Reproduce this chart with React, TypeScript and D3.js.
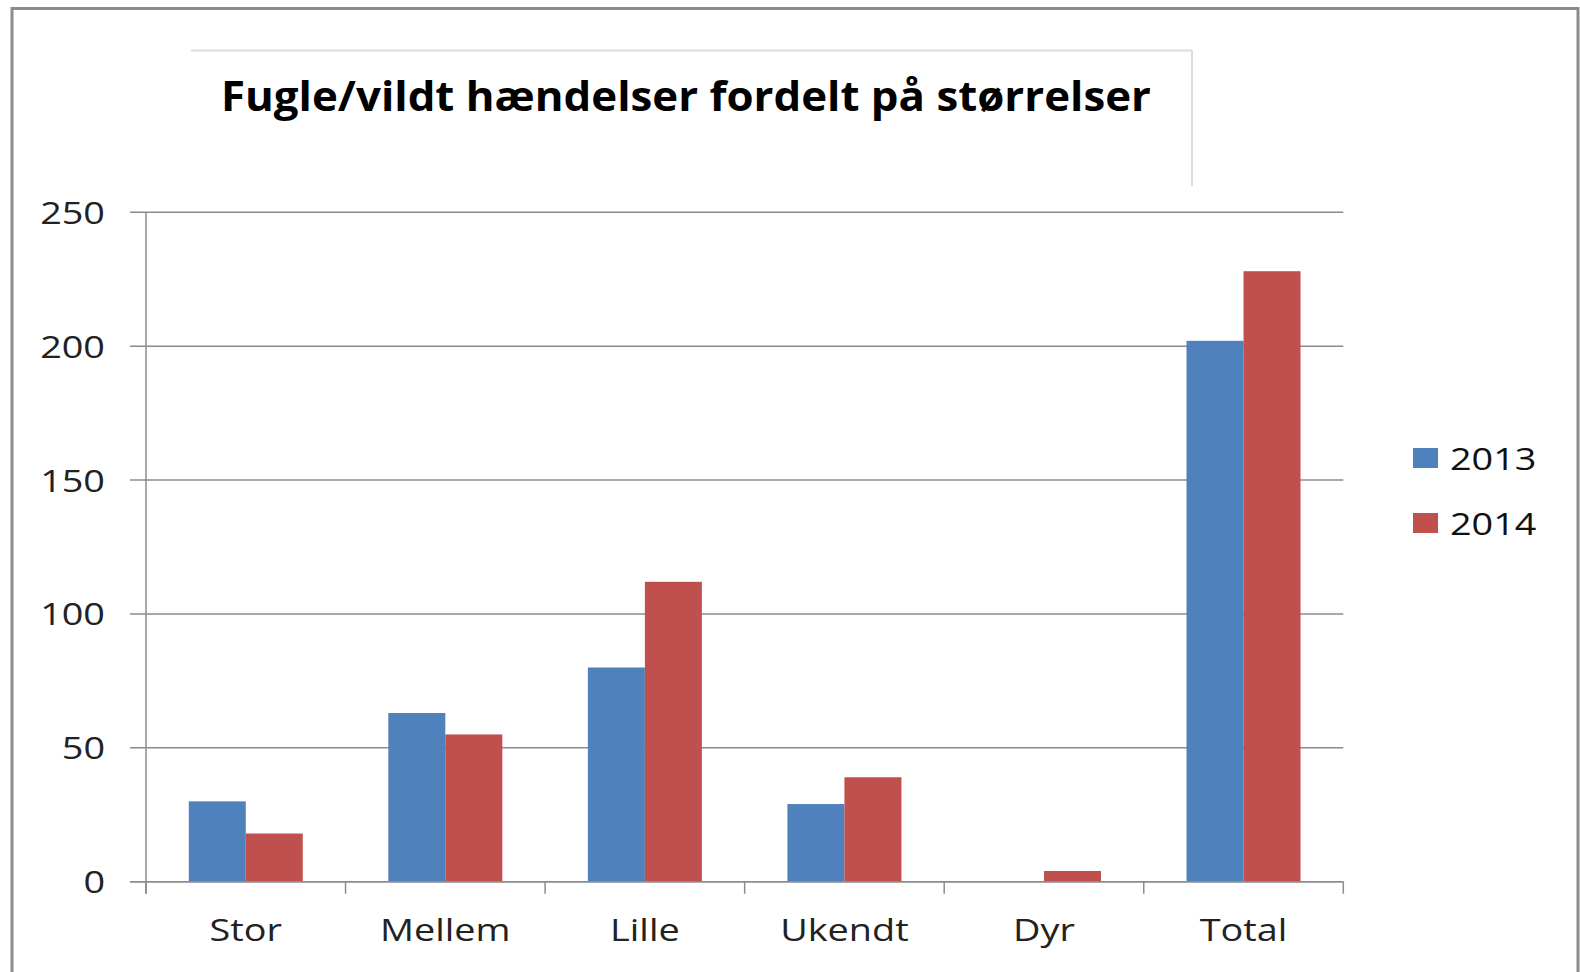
import React from 'react';
import * as d3 from 'd3';

const categories = ['Stor', 'Mellem', 'Lille', 'Ukendt', 'Dyr', 'Total'];
const seriesNames = ['2013', '2014'];
const values2013 = [30, 63, 80, 29, 0, 202];
const values2014 = [18, 55, 112, 39, 4, 228];
const yTicks = [0, 50, 100, 150, 200, 250];
const title = 'Fugle/vildt hændelser fordelt på størrelser';

const colors = ['#4f81bd', '#c0504d'];
const font = '"Open Sans", "DejaVu Sans", sans-serif';
const stretch = 1.22; // labels look stretched sideways in the original

const App = () => {
  const width = 1580;
  const height = 972;
  const margin = { left: 146, right: 236.7, top: 212.3, bottom: 90.3 };

  const x = d3
    .scaleBand()
    .domain(categories)
    .range([margin.left, width - margin.right])
    .paddingInner(0)
    .paddingOuter(0);

  const xs = d3
    .scaleBand()
    .domain(seriesNames)
    .range([0, x.bandwidth()])
    .paddingInner(0)
    .paddingOuter(0.75);

  const y = d3
    .scaleLinear()
    .domain([0, 250])
    .range([height - margin.bottom, margin.top]);

  const series = [values2013, values2014];
  const xEnd = width - margin.right;
  const tickXs = categories.map(c => x(c)).concat([xEnd]);

  return (
    <svg
      width={width}
      height={height}
      style={{ position: 'absolute', left: 0, top: 0, background: '#fff' }}
    >
      <rect x={0} y={0} width={width} height={height} fill="#fff" />
      {/* outer frame */}
      <rect x={12} y={8.5} width={1566} height={1000} fill="none" stroke="#8c8c8c" strokeWidth={3} />

      {/* title box lines */}
      <line x1={191} x2={1192} y1={50.5} y2={50.5} stroke="#dcdcdc" strokeWidth={2} />
      <line x1={1192} x2={1192} y1={50.5} y2={186} stroke="#dcdcdc" strokeWidth={2} />
      <text
        x={221}
        y={111}
        fontFamily={font}
        fontWeight="bold"
        fontSize={42}
        textLength={930}
        lengthAdjust="spacingAndGlyphs"
        fill="#000"
      >
        {title}
      </text>

      {/* gridlines + y ticks */}
      {yTicks.map(t => (
        <g key={t}>
          <line
            x1={130}
            x2={xEnd}
            y1={y(t)}
            y2={y(t)}
            stroke="#8c8c8c"
            strokeWidth={1.5}
          />
          <text
            transform={`translate(105,${y(t) + 11.5}) scale(${stretch},1)`}
            textAnchor="end"
            fontFamily={font}
            fontSize={31}
            fill="#222"
          >
            {t}
          </text>
        </g>
      ))}

      {/* bars */}
      {series.map((vals, si) =>
        vals.map((v, i) => (
          <rect
            key={si + '-' + i}
            x={x(categories[i]) + xs(seriesNames[si])}
            y={y(v)}
            width={xs.bandwidth()}
            height={y(0) - y(v)}
            fill={colors[si]}
          />
        ))
      )}

      {/* y axis */}
      <line x1={margin.left} x2={margin.left} y1={y(250)} y2={y(0) + 12} stroke="#8c8c8c" strokeWidth={1.5} />
      {/* x axis */}
      <line x1={130} x2={xEnd} y1={y(0)} y2={y(0)} stroke="#8c8c8c" strokeWidth={1.5} />
      {tickXs.map((tx, i) => (
        <line key={i} x1={tx} x2={tx} y1={y(0)} y2={y(0) + 12} stroke="#8c8c8c" strokeWidth={1.5} />
      ))}
      {categories.map(c => (
        <text
          key={c}
          transform={`translate(${x(c) + x.bandwidth() / 2},940.7) scale(${stretch},1)`}
          textAnchor="middle"
          fontFamily={font}
          fontSize={31}
          fill="#222"
        >
          {c}
        </text>
      ))}

      {/* legend */}
      {seriesNames.map((s, i) => (
        <g key={s}>
          <rect x={1413} y={448 + i * 65} width={25} height={20} fill={colors[i]} />
          <text
            transform={`translate(1450,${469.5 + i * 65}) scale(${stretch},1)`}
            fontFamily={font}
            fontSize={31}
            fill="#111"
          >
            {s}
          </text>
        </g>
      ))}
    </svg>
  );
};

export default App;
